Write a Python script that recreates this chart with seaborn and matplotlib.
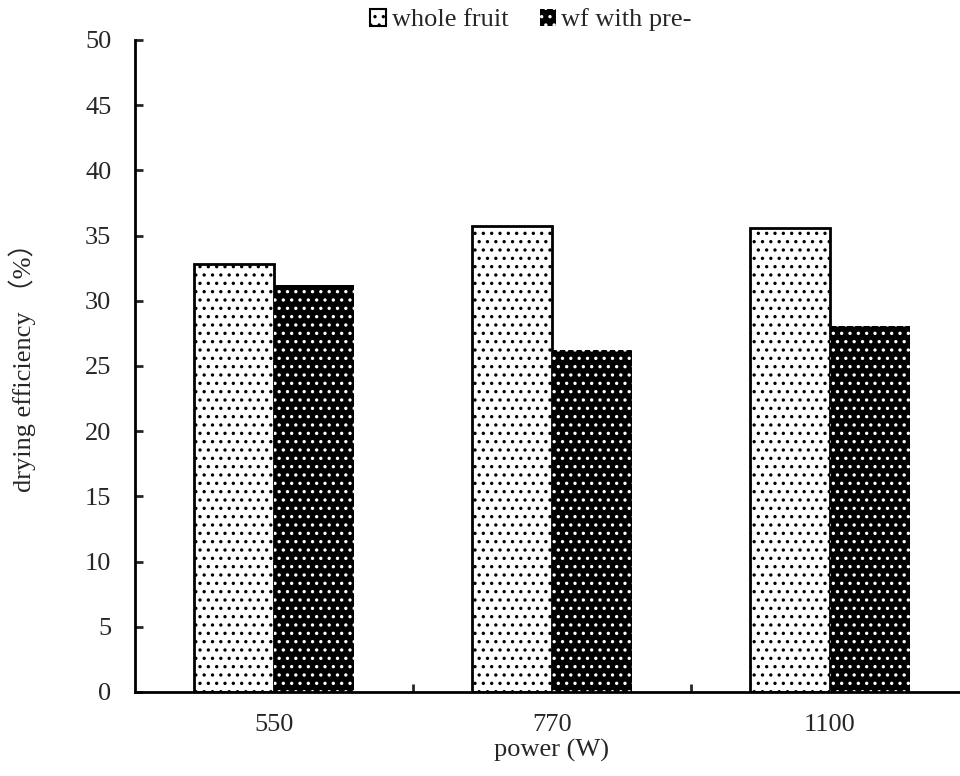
import matplotlib
matplotlib.use("Agg")
import matplotlib.pyplot as plt
import seaborn as sns
import pandas as pd
from matplotlib.patches import Patch

categories = ["550", "770", "1100"]
series_names = ["whole fruit", "wf with pre-"]
whole_fruit = [32.8, 35.7, 35.6]
wf_with_pre = [31.2, 26.2, 28.1]
y_ticks = [0, 5, 10, 15, 20, 25, 30, 35, 40, 45, 50]

df = pd.DataFrame({
    "power": categories * 2,
    "series": [series_names[0]] * 3 + [series_names[1]] * 3,
    "value": whole_fruit + wf_with_pre,
})

sns.set_theme(style="white")
plt.rcParams['font.family'] = ['Liberation Serif', 'Noto Sans CJK SC', 'DejaVu Sans']
plt.rcParams['hatch.linewidth'] = 1.2

fig = plt.figure(figsize=(9.6, 7.76), dpi=100)
ax = fig.add_axes([135/960, 84/776, (969-135)/960, (692-40)/776])

sns.barplot(data=df, x="power", y="value", hue="series", order=categories,
            hue_order=series_names, palette=["white", "black"], width=0.576,
            ax=ax, legend=False, saturation=1)

n = len(categories)
for i, p in enumerate(ax.patches):
    if i < n:
        p.set_facecolor("white")
        p.set_edgecolor("black")
        p.set_linewidth(2)
        p.set_hatch("..")
    else:
        p.set_facecolor("black")
        p.set_edgecolor("white")
        p.set_linewidth(0)
        p.set_hatch("..")

FS = 19
ax.set_ylim(0, 50)
ax.set_xlim(-0.5, 2.5)
ax.set_yticks(y_ticks)
ax.tick_params(axis='y', direction='in', length=6, width=2, labelsize=FS, left=True, pad=17)
ax.tick_params(axis='x', which='major', length=0, labelsize=FS, pad=16)
ax.set_xticks([0.5, 1.5], minor=True)
ax.tick_params(axis='x', which='minor', direction='in', length=6, width=2, bottom=True)
for s in ["top", "right"]:
    ax.spines[s].set_visible(False)
for s in ["left", "bottom"]:
    ax.spines[s].set_linewidth(2)
    ax.spines[s].set_color("black")

ax.set_xlabel("power (W)", fontsize=FS, labelpad=2)
ax.set_ylabel("")
fig.text(22/960, 1 - 361/776, "drying efficiency （%）", rotation=90, ha="center", va="center",
         fontsize=FS)

h1 = Patch(facecolor="white", edgecolor="black", hatch="..", linewidth=1.5)
h2 = Patch(facecolor="black", edgecolor="white", hatch="..", linewidth=0)
fig.legend(handles=[h1, h2], labels=series_names, loc="center", bbox_to_anchor=(531/960, 1 - 20/776),
           ncol=2, frameon=False, fontsize=FS, handlelength=0.6, handleheight=0.6,
           handletextpad=0.2, columnspacing=1.2, borderpad=0.1)

fig.savefig("out.png", dpi=100)
